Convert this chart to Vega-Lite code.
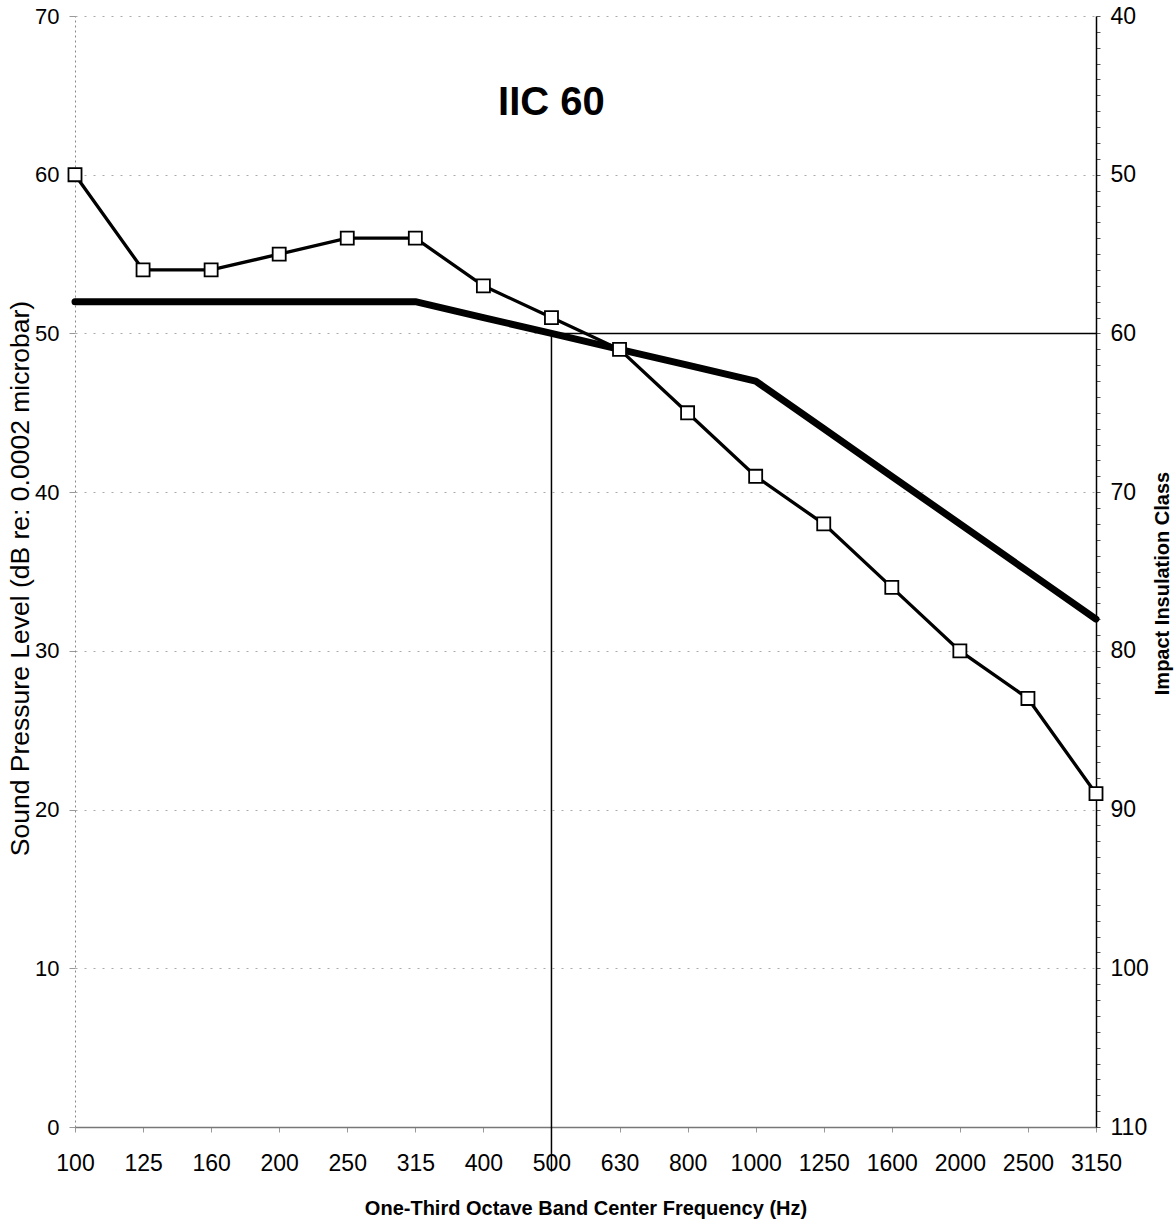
{
  "$schema": "https://vega.github.io/schema/vega-lite/v6.json",
  "width": 1021,
  "height": 1111,
  "autosize": {"type": "none"},
  "padding": {"left": 75, "top": 16, "right": 80, "bottom": 103},
  "background": "white",
  "config": {
    "view": {"stroke": null},
    "font": "Liberation Sans",
    "axis": {"labelColor": "black", "titleColor": "black"}
  },
  "datasets": {
    "measured": [
      {"freq": "100", "spl": 60}, {"freq": "125", "spl": 54}, {"freq": "160", "spl": 54},
      {"freq": "200", "spl": 55}, {"freq": "250", "spl": 56}, {"freq": "315", "spl": 56},
      {"freq": "400", "spl": 53}, {"freq": "500", "spl": 51}, {"freq": "630", "spl": 49},
      {"freq": "800", "spl": 45}, {"freq": "1000", "spl": 41}, {"freq": "1250", "spl": 38},
      {"freq": "1600", "spl": 34}, {"freq": "2000", "spl": 30}, {"freq": "2500", "spl": 27},
      {"freq": "3150", "spl": 21}
    ],
    "contour": [
      {"freq": "100", "spl": 52}, {"freq": "125", "spl": 52}, {"freq": "160", "spl": 52},
      {"freq": "200", "spl": 52}, {"freq": "250", "spl": 52}, {"freq": "315", "spl": 52},
      {"freq": "400", "spl": 51}, {"freq": "500", "spl": 50}, {"freq": "630", "spl": 49},
      {"freq": "800", "spl": 48}, {"freq": "1000", "spl": 47}, {"freq": "1250", "spl": 44},
      {"freq": "1600", "spl": 41}, {"freq": "2000", "spl": 38}, {"freq": "2500", "spl": 35},
      {"freq": "3150", "spl": 32}
    ]
  },
  "layer": [
    {
      "layer": [
        {
          "data": {"name": "contour"},
          "mark": {"type": "line", "color": "black", "strokeWidth": 7, "strokeCap": "round", "strokeJoin": "round"},
          "encoding": {
            "x": {
              "field": "freq", "type": "ordinal",
              "scale": {"type": "point", "padding": 0, "domain": ["100","125","160","200","250","315","400","500","630","800","1000","1250","1600","2000","2500","3150"]},
              "axis": {
                "title": "One-Third Octave Band Center Frequency (Hz)",
                "titleFont": "Liberation Sans",
                "titleFontSize": 20,
                "titleFontWeight": "bold",
                "titlePadding": 23,
                "labelFont": "Liberation Sans",
                "labelFontSize": 23,
                "labelAngle": 0,
                "labelPadding": 20,
                "tickSize": 5,
                "tickColor": "#999",
                "domainColor": "#777",
                "domainWidth": 1.5,
                "grid": false
              }
            },
            "y": {
              "field": "spl", "type": "quantitative",
              "scale": {"domain": [0, 70], "nice": false},
              "axis": {
                "title": "Sound Pressure Level (dB re: 0.0002 microbar)",
                "titleFont": "Liberation Sans",
                "titleFontSize": 26.5,
                "titleFontWeight": "normal",
                "titleAngle": -90,
                "titleX": -55,
                "titleY": 562,
                "titleAlign": "center",
                "titleBaseline": "middle",
                "values": [0, 10, 20, 30, 40, 50, 60, 70],
                "labelFont": "Liberation Sans",
                "labelFontSize": 22,
                "labelPadding": 10,
                "tickSize": 6,
                "tickColor": "#999",
                "domainColor": "#888",
                "domainDash": [2, 3],
                "grid": true,
                "gridColor": "#aaa",
                "gridDash": [2, 7],
                "gridWidth": 1
              }
            }
          }
        },
        {
          "data": {"name": "measured"},
          "mark": {"type": "line", "color": "black", "strokeWidth": 3.3, "point": {"shape": "square", "filled": true, "fill": "white", "stroke": "black", "strokeWidth": 1.8, "size": 170}},
          "encoding": {
            "x": {"field": "freq", "type": "ordinal"},
            "y": {"field": "spl", "type": "quantitative"}
          }
        },
        {
          "data": {"values": [{}]},
          "mark": {"type": "rule", "color": "black", "strokeWidth": 1.5},
          "encoding": {
            "x": {"datum": "500", "type": "ordinal"},
            "y": {"datum": 50, "type": "quantitative"},
            "y2": {"datum": -2.8}
          }
        },
        {
          "data": {"values": [{}]},
          "mark": {"type": "text", "font": "Liberation Sans", "fontWeight": "bold", "fontSize": 40, "baseline": "middle", "align": "center", "color": "black"},
          "encoding": {
            "x": {"datum": "500", "type": "ordinal"},
            "y": {"datum": 64.5, "type": "quantitative"},
            "text": {"value": "IIC 60"}
          }
        }
      ]
    },
    {
      "data": {"values": [{}]},
      "mark": {"type": "rule", "color": "black", "strokeWidth": 1.5},
      "encoding": {
        "x": {"datum": "500", "type": "ordinal"},
        "x2": {"datum": "3150"},
        "y": {
          "datum": 60, "type": "quantitative",
          "scale": {"domain": [40, 110], "reverse": true, "nice": false},
          "axis": {
            "orient": "right",
            "title": "Impact Insulation Class",
            "titleFont": "Liberation Sans",
            "titleFontSize": 20,
            "titleFontWeight": "bold",
            "titleAngle": -90,
            "titleX": 66,
            "titleY": 567,
            "titleAlign": "center",
            "titleBaseline": "middle",
            "values": [40,41,42,43,44,45,46,47,48,49,50,51,52,53,54,55,56,57,58,59,60,61,62,63,64,65,66,67,68,69,70,71,72,73,74,75,76,77,78,79,80,81,82,83,84,85,86,87,88,89,90,91,92,93,94,95,96,97,98,99,100,101,102,103,104,105,106,107,108,109,110],
            "labelExpr": "datum.value % 10 === 0 ? datum.label : ''",
            "labelFont": "Liberation Sans",
            "labelFontSize": 23,
            "labelPadding": 10,
            "tickSize": 4,
            "tickColor": "#555",
            "domainColor": "black",
            "domainWidth": 1.5,
            "grid": false
          }
        }
      }
    }
  ],
  "resolve": {"scale": {"y": "independent"}}
}
